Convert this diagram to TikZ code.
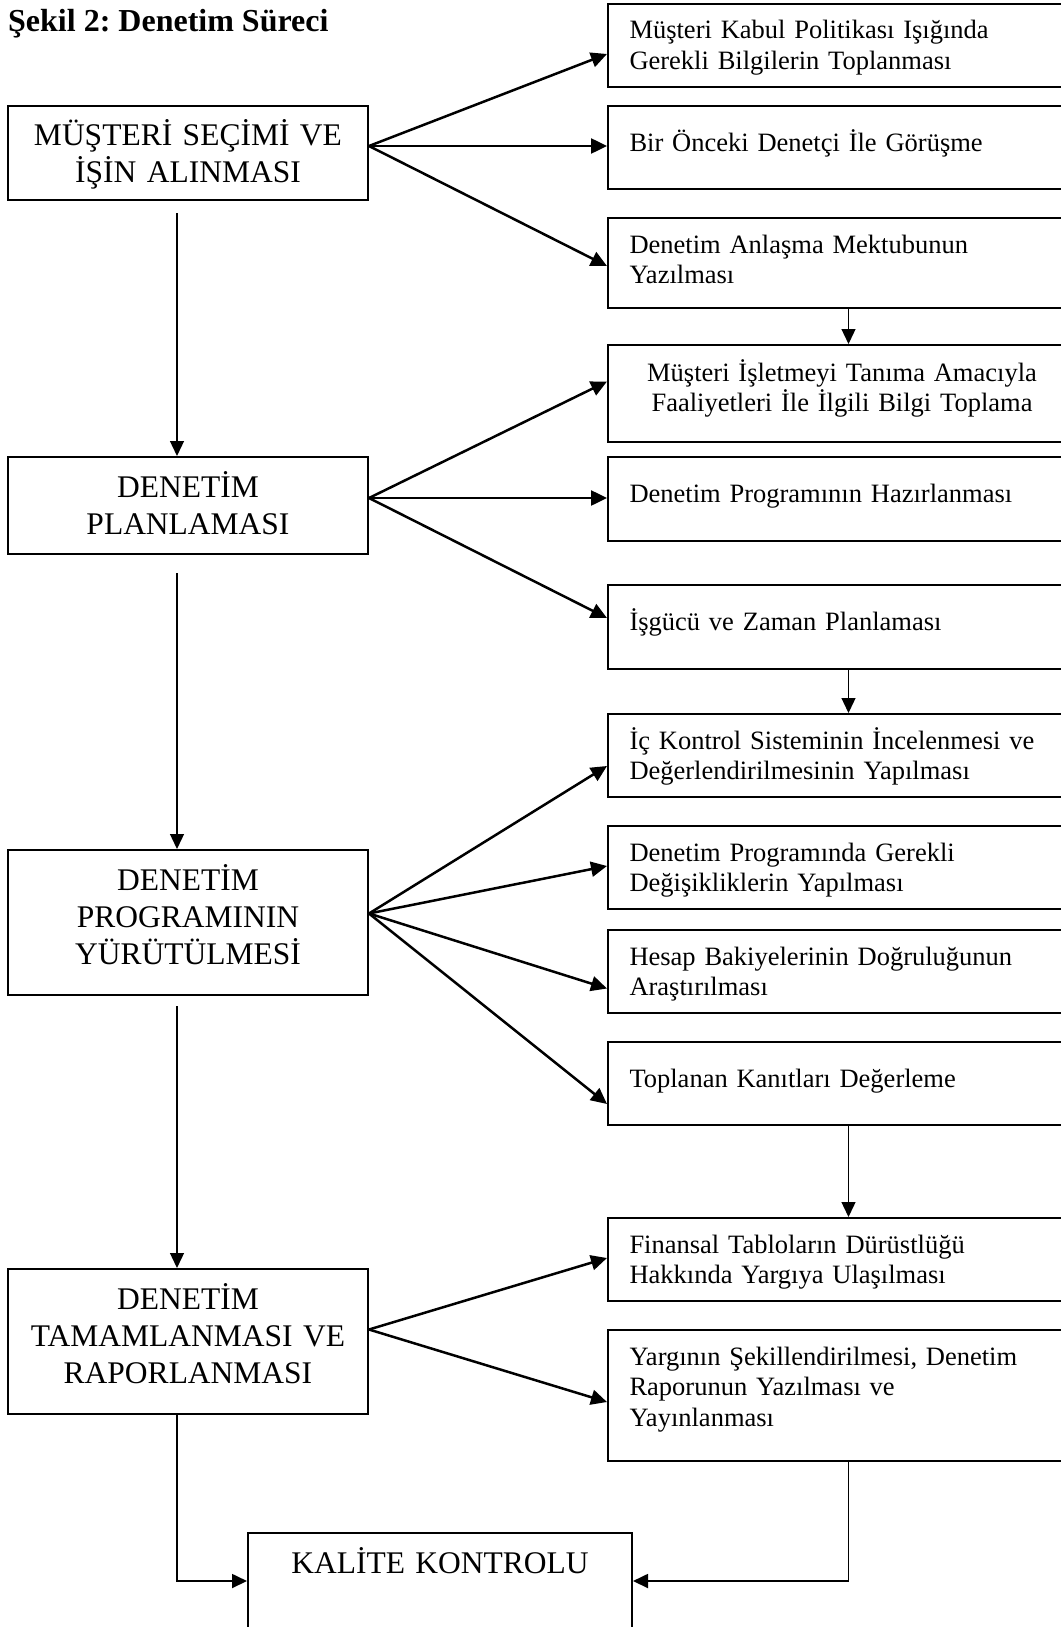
\documentclass[tikz,border=0pt]{standalone}
\usepackage{fontspec}
\setmainfont{Liberation Serif}
\usetikzlibrary{arrows.meta}
\frenchspacing

\begin{document}
\begin{tikzpicture}[x=1pt,y=-1pt]
\tikzstyle{anabox}=[
	draw, line width=2pt, anchor=north,
	inner xsep=2pt, inner ysep=0pt,
	text width=356pt, align=center, text height=40pt,
	font=\fontsize{31.5}{37}\selectfont ]
\tikzstyle{altbox}=[
	draw, line width=2pt, anchor=north,
	inner xsep=21.5pt, inner ysep=0pt,
	text width=425pt, align=left, text height=35pt,
	font=\fontsize{26.5}{30.5}\selectfont ]
\tikzstyle{tekli}=[text height=45pt]
\tikzstyle{dal}=[line width=2.5pt, -{Triangle[length=16pt,width=15pt]}]
\tikzstyle{akis}=[line width=1.3pt, -{Triangle[length=15pt,width=14pt]}]
\useasboundingbox (0,0) rectangle (1060,1627);

\node[anchor=base west, inner sep=0pt, font=\bfseries\fontsize{32}{36}\selectfont] (baslik) at (8,32) {Şekil 2: Denetim Süreci};

\node[anabox, text depth=54pt] (b1) at (188,105) {MÜŞTERİ SEÇİMİ VE\\İŞİN ALINMASI};
\node[anabox, text depth=57pt] (b2) at (188,456) {DENETİM\\PLANLAMASI};
\node[anabox, text depth=105pt] (b3) at (188,849) {DENETİM\\PROGRAMININ\\YÜRÜTÜLMESİ};
\node[anabox, text depth=105pt] (b4) at (188,1268) {DENETİM\\TAMAMLANMASI VE\\RAPORLANMASI};
\node[anabox, text width=380pt, text height=40.5pt, text depth=55.5pt] (kk) at (440,1532) {KALİTE KONTROLU};

\node[altbox, text depth=48pt] (r1) at (842,3) {Müşteri Kabul Politikası Işığında\\Gerekli Bilgilerin Toplanması};
\node[altbox, tekli, text depth=38pt] (r2) at (842,105) {Bir Önceki Denetçi İle Görüşme};
\node[altbox, text depth=55pt] (r3) at (842,217) {Denetim Anlaşma Mektubunun\\Yazılması};
\node[altbox, align=center, text height=36pt, text depth=61pt] (r4) at (842,344) {Müşteri İşletmeyi Tanıma Amacıyla\\Faaliyetleri İle İlgili Bilgi Toplama};
\node[altbox, tekli, text depth=39pt] (r5) at (842,456) {Denetim Programının Hazırlanması};
\node[altbox, tekli, text depth=39pt] (r6) at (842,584) {İşgücü ve Zaman Planlaması};
\node[altbox, text depth=48pt] (r7) at (842,713) {İç Kontrol Sisteminin İncelenmesi ve\\Değerlendirilmesinin Yapılması};
\node[altbox, text depth=48pt] (r8) at (842,825) {Denetim Programında Gerekli\\Değişikliklerin Yapılması};
\node[altbox, text depth=48pt] (r9) at (842,929) {Hesap Bakiyelerinin Doğruluğunun\\Araştırılması};
\node[altbox, tekli, text depth=38pt] (r10) at (842,1041) {Toplanan Kanıtları Değerleme};
\node[altbox, text depth=48pt] (r11) at (842,1217) {Finansal Tabloların Dürüstlüğü\\Hakkında Yargıya Ulaşılması};
\node[altbox, text depth=96pt] (r12) at (842,1329) {Yargının Şekillendirilmesi, Denetim\\Raporunun Yazılması ve\\Yayınlanması};

\draw[dal] ([yshift=7pt]b1.east) -- ([yshift=-8.5pt]r1.west);
\draw[dal] ([yshift=7pt]b1.east) -- ([yshift=1.5pt]r2.west);
\draw[dal] ([yshift=7pt]b1.east) -- ([yshift=-3pt]r3.west);
\draw[dal] ([yshift=7.5pt]b2.east) -- ([yshift=12pt]r4.west);
\draw[dal] ([yshift=7.5pt]b2.east) -- ([yshift=1pt]r5.west);
\draw[dal] ([yshift=7.5pt]b2.east) -- ([yshift=9pt]r6.west);
\draw[dal] ([yshift=9pt]b3.east) -- ([yshift=-10.5pt]r7.west);
\draw[dal] ([yshift=9pt]b3.east) -- ([yshift=1.5pt]r8.west);
\draw[dal] ([yshift=9pt]b3.east) -- ([yshift=-17pt]r9.west);
\draw[dal] ([yshift=9pt]b3.east) -- ([yshift=-20.5pt]r10.west);
\draw[dal] ([yshift=12pt]b4.east) -- ([yshift=1.5pt]r11.west);
\draw[dal] ([yshift=12pt]b4.east) -- ([yshift=-6.5pt]r12.west);

\draw[akis] ([xshift=-11pt,yshift=-12pt]b1.south) -- ([xshift=-11pt]b2.north);
\draw[akis] ([xshift=-11pt,yshift=-18pt]b2.south) -- ([xshift=-11pt]b3.north);
\draw[akis] ([xshift=-11pt,yshift=-10pt]b3.south) -- ([xshift=-11pt]b4.north);
\draw[akis, line width=1.8pt] ([xshift=-11pt]b4.south) |- (kk.west);

\draw[akis] ([xshift=6.5pt]r3.south) -- ([xshift=6.5pt]r4.north);
\draw[akis] ([xshift=6.5pt]r6.south) -- ([xshift=6.5pt]r7.north);
\draw[akis] ([xshift=6.5pt]r10.south) -- ([xshift=6.5pt]r11.north);
\draw[akis, line width=1.8pt] ([xshift=6.5pt]r12.south) |- (kk.east);
\end{tikzpicture}
\end{document}
